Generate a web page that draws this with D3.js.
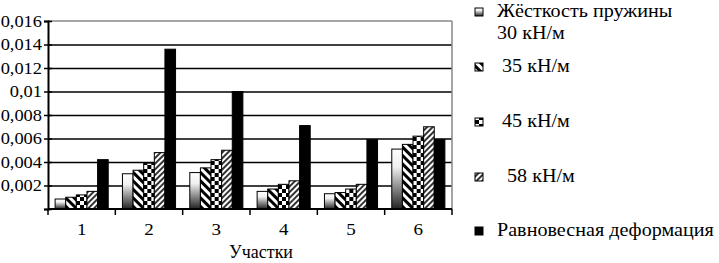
<html>
<head>
<meta charset="utf-8">
<script src="https://d3js.org/d3.v7.min.js"></script>
<style>
  body { margin:0; background:#fff; }
  text { font-family: "Liberation Serif", "Times New Roman", serif !important; fill:#000; }
  .grids line { stroke:#000; stroke-width:1.6; }
  .grids .domain { stroke:none; }
</style>
</head>
<body>
<svg id="chart" width="719" height="263"></svg>
<script>
// categories (участки)
const categories = ['1', '2', '3', '4', '5', '6'];
const seriesKeys = ['k30', 'k35', 'k45', 'k58', 'eq'];
// legend text, one array of lines per series
const legendLines = [
  ['Жёсткость пружины', '30 кН/м'],
  [' 35 кН/м'],
  [' 45 кН/м'],
  ['  58 кН/м'],
  ['Равновесная деформация']
];
// values
const k30 = [0.00085, 0.0030, 0.0031, 0.0015, 0.0013, 0.0051];
const k35 = [0.0010, 0.0033, 0.0035, 0.0017, 0.0014, 0.0055];
const k45 = [0.0012, 0.0039, 0.0042, 0.0021, 0.0017, 0.0062];
const k58 = [0.0015, 0.0048, 0.0050, 0.0024, 0.0021, 0.0070];
const eq  = [0.0042, 0.0136, 0.0100, 0.0071, 0.0059, 0.0059];
const yTicks = [0, 0.002, 0.004, 0.006, 0.008, 0.01, 0.012, 0.014, 0.016];
const xTitle = 'Участки';

const seriesValues = {k30, k35, k45, k58, eq};
const margin = {left:48, top:21, bottom:54, right:267};
const svg = d3.select('svg#chart');
const W = +svg.attr('width'), H = +svg.attr('height');
const innerW = W - margin.left - margin.right;
const innerH = H - margin.top - margin.bottom;
const stretch = 1.12; // the reference type looks a bit wide

// patterns
const defs = svg.append('defs');
const grad = defs.append('linearGradient').attr('id', 'f-k30')
  .attr('x1', 0).attr('y1', 0).attr('x2', 0).attr('y2', 1);
grad.append('stop').attr('offset', '0').attr('stop-color', '#ffffff');
grad.append('stop').attr('offset', '0.3').attr('stop-color', '#f0f0f0');
grad.append('stop').attr('offset', '1').attr('stop-color', '#222');

const p35 = defs.append('pattern').attr('id', 'f-k35').attr('patternUnits', 'userSpaceOnUse')
  .attr('width', 6).attr('height', 6).attr('patternTransform', 'rotate(-45)');
p35.append('rect').attr('width', 6).attr('height', 6).attr('fill', '#fff');
p35.append('rect').attr('width', 3).attr('height', 6).attr('fill', '#000');

const p45 = defs.append('pattern').attr('id', 'f-k45').attr('patternUnits', 'userSpaceOnUse')
  .attr('width', 8).attr('height', 8);
p45.append('rect').attr('width', 8).attr('height', 8).attr('fill', '#fff');
p45.append('rect').attr('x', 0).attr('y', 0).attr('width', 4).attr('height', 4).attr('fill', '#000');
p45.append('rect').attr('x', 4).attr('y', 4).attr('width', 4).attr('height', 4).attr('fill', '#000');

const p58 = defs.append('pattern').attr('id', 'f-k58').attr('patternUnits', 'userSpaceOnUse')
  .attr('width', 4).attr('height', 4).attr('patternTransform', 'rotate(45)');
p58.append('rect').attr('width', 4).attr('height', 4).attr('fill', '#fff');
p58.append('rect').attr('width', 2).attr('height', 4).attr('fill', '#333');

const fills = {k30:'url(#f-k30)', k35:'url(#f-k35)', k45:'url(#f-k45)', k58:'url(#f-k58)', eq:'#000'};

// scales
const x = d3.scaleBand().domain(categories).range([0, innerW]).paddingInner(0).paddingOuter(0);
const xs = d3.scaleBand().domain(seriesKeys).range([0, x.bandwidth()]).paddingInner(0).paddingOuter(0.67);
const y = d3.scaleLinear().domain([0, 0.016]).range([innerH, 0]);

const plot = svg.append('g').attr('transform', `translate(${margin.left},${margin.top})`);

// gridlines
plot.append('g').attr('class', 'grids')
  .call(d3.axisLeft(y).tickValues(yTicks.slice(1, -1)).tickFormat('').tickSize(-innerW));
plot.append('line').attr('x1', 0).attr('x2', innerW).attr('y1', y(0.016)).attr('y2', y(0.016))
  .attr('stroke', '#888').attr('stroke-width', 1.5);
plot.append('line').attr('x1', innerW).attr('x2', innerW).attr('y1', 0).attr('y2', innerH)
  .attr('stroke', '#888').attr('stroke-width', 1.5);

// bars
const groups = plot.selectAll('g.cat').data(categories).join('g')
  .attr('class', 'cat').attr('transform', d => `translate(${x(d)},0)`);
groups.selectAll('rect').data((c, i) => seriesKeys.map(k => ({k, v: seriesValues[k][i]})))
  .join('rect')
  .attr('x', d => xs(d.k)).attr('width', xs.bandwidth())
  .attr('y', d => y(d.v)).attr('height', d => innerH - y(d.v))
  .attr('fill', d => fills[d.k]).attr('stroke', '#000').attr('stroke-width', 1);

// y axis
const yAxis = plot.append('g')
  .call(d3.axisLeft(y).tickValues(yTicks).tickSize(4)
    .tickFormat(d => d === 0 ? '' : String(+d.toFixed(3)).replace('.', ',')));
yAxis.select('.domain').attr('stroke', '#000').attr('stroke-width', 2);
yAxis.selectAll('.tick line').attr('x2', 4).attr('x1', -4).attr('stroke', '#000').attr('stroke-width', 1.5);
yAxis.selectAll('.tick text').attr('x', -6 / 1.15).attr('font-size', 16)
  .attr('transform', 'scale(1.15,1)');

// x axis: ticks at category boundaries
const xAxisG = plot.append('g').attr('transform', `translate(0,${innerH})`);
xAxisG.append('line').attr('x1', 0).attr('x2', innerW).attr('stroke', '#000').attr('stroke-width', 2);
xAxisG.selectAll('line.tk').data(categories.concat(['end'])).join('line').attr('class', 'tk')
  .attr('x1', (d, i) => i < categories.length ? x(d) : innerW)
  .attr('x2', (d, i) => i < categories.length ? x(d) : innerW)
  .attr('y1', 0).attr('y2', 6).attr('stroke', '#000').attr('stroke-width', 1.5);
xAxisG.selectAll('text.cl').data(categories).join('text').attr('class', 'cl')
  .attr('transform', d => `translate(${x(d) + x.bandwidth() / 2},26) scale(${stretch},1)`)
  .attr('text-anchor', 'middle').attr('font-size', 17).text(d => d);

svg.append('text').attr('transform', `translate(${margin.left + innerW / 2 + 11},258)`)
  .attr('text-anchor', 'middle').attr('font-size', 18).text(xTitle);

// legend
const legendY = [17, 72, 127, 182, 236];
const legend = svg.append('g').attr('transform', 'translate(475,0)');
seriesKeys.forEach((k, i) => {
  legend.append('rect').attr('x', 0).attr('y', legendY[i] - 9).attr('width', 8).attr('height', 8)
    .attr('fill', fills[k]).attr('stroke', '#000').attr('stroke-width', 1);
  const t = legend.append('text').attr('transform', `translate(22,${legendY[i]}) scale(1.06,1)`)
    .attr('font-size', 19).style('white-space', 'pre');
  legendLines[i].forEach((line, j) => {
    t.append('tspan').attr('x', 0).attr('dy', j === 0 ? 0 : 22).text(line);
  });
});
</script>
</body>
</html>
